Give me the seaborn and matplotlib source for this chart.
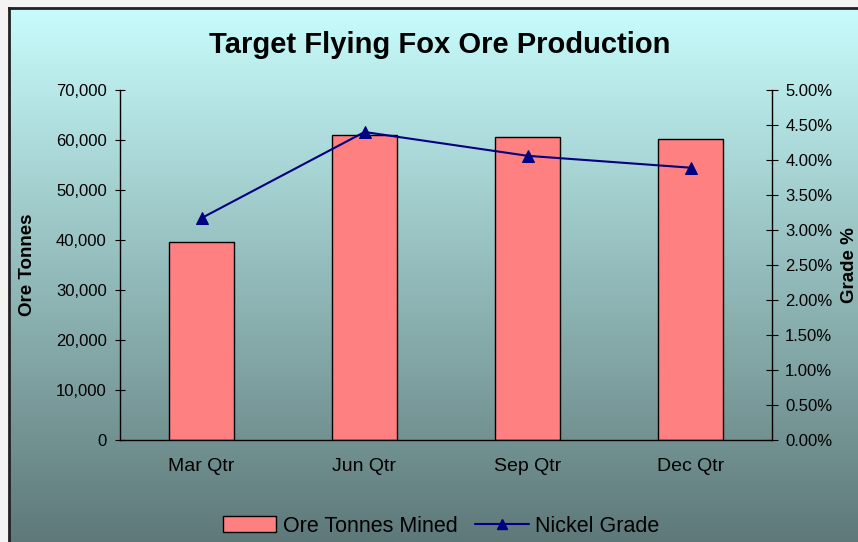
import numpy as np
import matplotlib
matplotlib.use("Agg")
import matplotlib.pyplot as plt
import seaborn as sns
from matplotlib.ticker import FuncFormatter, MultipleLocator
from matplotlib.patches import Patch
from matplotlib.lines import Line2D

# Data
quarters = ["Mar Qtr", "Jun Qtr", "Sep Qtr", "Dec Qtr"]
ore_tonnes = [39700, 61100, 60700, 60300]
nickel_grade = [3.17, 4.40, 4.06, 3.89]   # percent

sns.set_style("white")
plt.rcParams['font.family'] = ['Liberation Sans', 'DejaVu Sans']
plt.rcParams['text.color'] = 'black'
plt.rcParams['xtick.color'] = 'black'
plt.rcParams['ytick.color'] = 'black'

fig = plt.figure(figsize=(8.58, 5.42), dpi=100)
fig.patch.set_facecolor('#f3f3f3')

W, H = 858, 542

# Gradient background panel (cyan to dark teal)
bg = fig.add_axes([9 / W, -0.02, 1.0, (H - 8) / H + 0.02])
top_col = np.array([200, 252, 252]) / 255
bot_col = np.array([92, 118, 118]) / 255
t = np.linspace(0, 1, 256)[:, None]
grad = top_col * (1 - t) + bot_col * t
bg.imshow(grad[:, None, :], aspect='auto', extent=[0, 1, 0, 1])
bg.set_xticks([])
bg.set_yticks([])
for side in ['right', 'bottom']:
    bg.spines[side].set_visible(False)
for side in ['left', 'top']:
    bg.spines[side].set_linewidth(2)
    bg.spines[side].set_color('#222222')

# Main plot area
ax = fig.add_axes([120 / W, 1 - 440 / H, (772 - 120) / W, (440 - 90) / H])
ax.patch.set_alpha(0)
sns.barplot(x=quarters, y=ore_tonnes, color='#ff8080', saturation=1,
            width=0.4, edgecolor='black', linewidth=1, ax=ax)
ax.set_ylim(0, 70000)
ax.yaxis.set_major_locator(MultipleLocator(10000))
ax.yaxis.set_major_formatter(FuncFormatter(lambda v, p: f"{int(v):,}"))
ax.set_xlim(-0.5, 3.5)
ax.set_xlabel("")
ax.set_ylabel("")
ax.set_xticks(np.arange(-0.5, 4, 1), minor=True)
ax.tick_params(axis='x', which='major', length=0, labelsize=14, pad=13)
ax.tick_params(axis='x', which='minor', length=7, direction='inout', width=1)
ax.tick_params(axis='y', length=7, direction='inout', labelsize=12, pad=6)
for side in ['left', 'bottom']:
    ax.spines[side].set_color('black')
    ax.spines[side].set_linewidth(1)
ax.spines['top'].set_visible(False)
ax.spines['right'].set_visible(False)

ax2 = ax.twinx()
sns.lineplot(x=np.arange(len(quarters)), y=nickel_grade, ax=ax2,
             color='#000080', marker='^', markersize=9, linewidth=1.5,
             markeredgecolor='#000080')
ax2.set_ylim(0, 5)
ax2.yaxis.set_major_locator(MultipleLocator(0.5))
ax2.yaxis.set_major_formatter(FuncFormatter(lambda v, p: f"{v:.2f}%"))
ax2.tick_params(axis='y', length=9, direction='inout', labelsize=12, pad=5)
ax2.set_ylabel("")
ax2.spines['right'].set_color('black')
ax2.spines['right'].set_linewidth(1)
for side in ['top', 'left', 'bottom']:
    ax2.spines[side].set_visible(False)
ax.set_xlim(-0.5, 3.5)

fig.text(0.512, 1 - 45 / H, "Target Flying Fox Ore Production",
         ha='center', va='center', fontsize=21, fontweight='bold')
fig.text(28 / W, 1 - 265 / H, "Ore Tonnes", rotation=90,
         ha='center', va='center', fontsize=13.5, fontweight='bold')
fig.text(849 / W, 1 - 265 / H, "Grade %", rotation=90,
         ha='center', va='center', fontsize=13.5, fontweight='bold')

handles = [
    Patch(facecolor='#ff8080', edgecolor='black', linewidth=1),
    Line2D([0], [0], color='#000080', marker='^', markersize=7, linewidth=1.5),
]
fig.legend(handles, ["Ore Tonnes Mined", "Nickel Grade"], loc='center',
           bbox_to_anchor=(0.514, 1 - 526 / H), ncol=2, frameon=False,
           fontsize=15.5, handlelength=2.5, handletextpad=0.3, columnspacing=0.8)

fig.savefig("out.png", dpi=100, facecolor=fig.get_facecolor())
